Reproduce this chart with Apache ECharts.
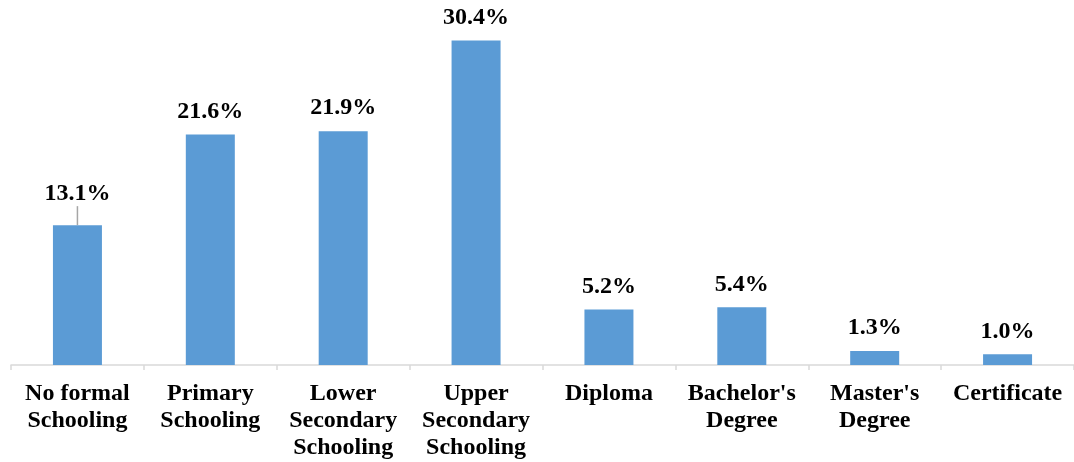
<!DOCTYPE html>
<html>
<head>
<meta charset="utf-8">
<title>Education level</title>
<script src="https://cdn.jsdelivr.net/npm/echarts@6/dist/echarts.min.js"></script>
<style>
  html, body { margin: 0; padding: 0; background: #ffffff; }
  #chart { width: 1074px; height: 462px; }
</style>
</head>
<body>
<div id="chart"></div>
<script>
// Education level categories (with their printed line breaks) and shares (%)
const categories = [
  'No formal\nSchooling',
  'Primary\nSchooling',
  'Lower\nSecondary\nSchooling',
  'Upper\nSecondary\nSchooling',
  'Diploma',
  "Bachelor's\nDegree",
  "Master's\nDegree",
  'Certificate'
];
const shares = [13.1, 21.6, 21.9, 30.4, 5.2, 5.4, 1.3, 1.0];

const FONT = '"Liberation Serif", "Times New Roman", serif';

const chart = echarts.init(document.getElementById('chart'), null, { renderer: 'canvas' });

// only the first label is lifted off its bar and gets a guide line
const barData = shares.map((v, i) => (i === 0
  ? { value: v, labelLine: { show: true } }
  : { value: v, labelLine: { show: false } }));

chart.setOption({
  animation: false,
  backgroundColor: '#ffffff',
  grid: { left: 11, right: -1, top: 2, bottom: 97, containLabel: false },
  xAxis: {
    type: 'category',
    data: categories,
    boundaryGap: true,
    axisLine: { show: true, lineStyle: { color: '#d9d9d9', width: 1.5 } },
    axisTick: { show: true, length: 5, lineStyle: { color: '#d9d9d9', width: 1.5 } },
    axisLabel: {
      interval: 0,
      margin: 15,
      color: '#000000',
      fontFamily: FONT,
      fontWeight: 'bold',
      fontSize: 24,
      lineHeight: 27,
      align: 'center'
    },
    splitLine: { show: false }
  },
  yAxis: {
    type: 'value',
    min: 0,
    max: 34,
    show: false,
    splitLine: { show: false }
  },
  series: [{
    type: 'bar',
    data: barData,
    barWidth: 49,
    itemStyle: { color: '#5b9bd5' },
    label: {
      show: true,
      position: 'top',
      distance: 11,
      color: '#000000',
      fontFamily: FONT,
      fontWeight: 'bold',
      fontSize: 24,
      formatter: p => p.value.toFixed(1) + '%'
    },
    labelLine: {
      lineStyle: { color: '#a6a6a6', width: 1.5 }
    },
    labelLayout: p => (p.dataIndex === 0 ? { dy: -8 } : {})
  }]
});
</script>
</body>
</html>
